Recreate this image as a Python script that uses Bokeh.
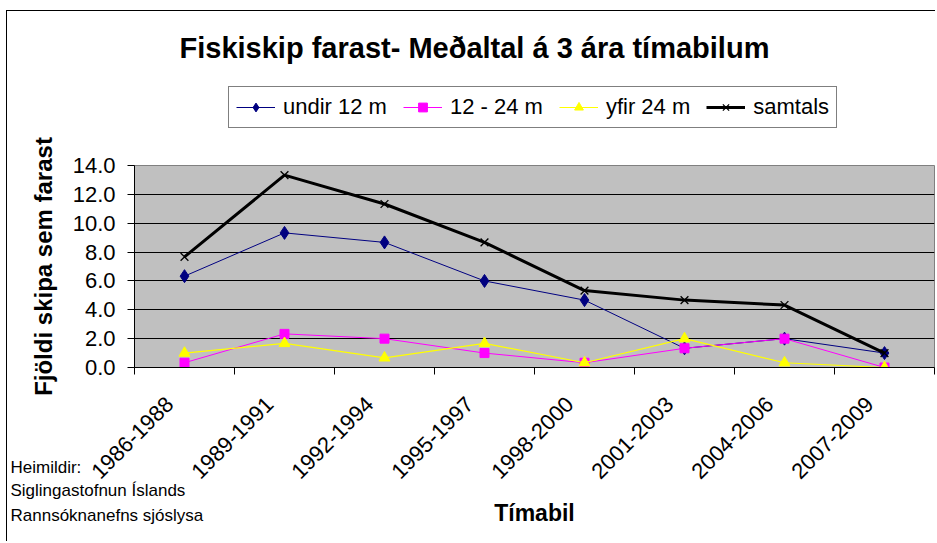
import math
from bokeh.plotting import figure
from bokeh.models import (FactorRange, Range1d, LinearAxis, FixedTicker,
                          Legend, LegendItem, Label, ColumnDataSource, PrintfTickFormatter)
from bokeh.embed import file_html
from bokeh.resources import INLINE

# ---- data ----
periods = ["1986-1988", "1989-1991", "1992-1994", "1995-1997",
           "1998-2000", "2001-2003", "2004-2006", "2007-2009"]
undir_12 = [6.33, 9.33, 8.67, 6.00, 4.67, 1.33, 2.00, 1.00]
m12_24 = [0.33, 2.33, 2.00, 1.00, 0.33, 1.33, 2.00, 0.00]
yfir_24 = [1.00, 1.67, 0.67, 1.67, 0.33, 2.00, 0.33, 0.00]
samtals = [7.67, 13.33, 11.33, 8.67, 5.33, 4.67, 4.33, 1.00]
y_ticks = [0, 2, 4, 6, 8, 10, 12, 14]

series_names = ["undir 12 m", "12 - 24 m", "yfir 24 m", "samtals"]
title_text = "Fiskiskip  farast- Meðaltal á 3 ára tímabilum"
y_label = "Fjöldi skipa sem farast"
x_label = "Tímabil"
source_lines = ["Heimildir:", "Siglingastofnun Íslands", "Rannsóknanefns sjóslysa"]

FONT = "Liberation Sans"

src = ColumnDataSource(dict(period=periods, undir=undir_12, mid=m12_24,
                            yfir=yfir_24, tot=samtals))

STYLES = [
    dict(y="undir", color="#000080", lw=1, marker="diamond", size=13, mlw=1),
    dict(y="mid", color="#FF00FF", lw=1, marker="square", size=9, mlw=1),
    dict(y="yfir", color="#FFFF00", lw=1.2, marker="triangle", size=11, mlw=1),
    dict(y="tot", color="black", lw=3, marker="x", size=11, mlw=1.3),
]


def draw_series(fig):
    out = []
    for st in STYLES:
        ln = fig.line("period", st["y"], source=src, color=st["color"], line_width=st["lw"])
        sc = fig.scatter("period", st["y"], source=src, marker=st["marker"], size=st["size"],
                         color=st["color"], line_width=st["mlw"])
        out.append([ln, sc])
    return out


# ================= main chart =================
p = figure(width=929, height=531,
           x_range=FactorRange(*periods), y_range=Range1d(0, 14),
           output_backend="svg", toolbar_location=None,
           x_axis_location=None, y_axis_location="left",
           min_border_left=127, min_border_right=2,
           min_border_top=154, min_border_bottom=175,
           background_fill_color="#C0C0C0", border_fill_color="white",
           outline_line_color="#808080",
           styles={"margin-left": "6px", "margin-top": "10px",
                   "border-left": "1px solid black", "border-top": "1px solid black"})
p.xgrid.visible = False

n = len(periods)
# tick marks at the category boundaries (synthetic coordinates 0..n)
edge_ticks = list(range(n + 1))
edge_axis = LinearAxis(ticker=FixedTicker(ticks=edge_ticks),
                       major_label_overrides={float(t): "" for t in edge_ticks},
                       major_tick_out=7, major_tick_in=0,
                       minor_tick_out=0, minor_tick_in=0,
                       major_label_standoff=0,
                       axis_line_color="black", major_tick_line_color="black")
p.add_layout(edge_axis, "below")

# slanted category names (anchored slightly left of each category centre, as in the original)
label_pos = [round(i + 0.35, 2) for i in range(n)]
label_axis = LinearAxis(ticker=FixedTicker(ticks=label_pos),
                        major_label_overrides={pos: name for pos, name in zip(label_pos, periods)},
                        major_tick_out=0, major_tick_in=0,
                        minor_tick_out=0, minor_tick_in=0,
                        axis_line_color=None,
                        major_label_orientation=math.pi / 4,
                        major_label_text_font_size="22px",
                        major_label_text_font=FONT,
                        major_label_text_color="black",
                        major_label_standoff=26,
                        axis_label=x_label,
                        axis_label_text_font=FONT,
                        axis_label_text_font_size="23px",
                        axis_label_text_font_style="bold",
                        axis_label_text_color="black",
                        axis_label_standoff=11)
p.add_layout(label_axis, "below")

ya = p.yaxis[0]
ya.ticker = FixedTicker(ticks=y_ticks)
ya.formatter = PrintfTickFormatter(format="%.1f")
ya.major_tick_out = 7
ya.major_tick_in = 0
ya.minor_tick_out = 0
ya.minor_tick_in = 0
ya.axis_line_color = "black"
ya.major_tick_line_color = "black"
ya.major_label_text_font = FONT
ya.major_label_text_font_size = "22px"
ya.major_label_text_color = "black"
ya.major_label_standoff = 12
ya.axis_label = y_label
ya.axis_label_text_font = FONT
ya.axis_label_text_font_size = "24px"
ya.axis_label_text_font_style = "bold"
ya.axis_label_text_color = "black"
ya.axis_label_standoff = 13

p.ygrid.ticker = FixedTicker(ticks=y_ticks)
p.ygrid.grid_line_color = "black"
p.ygrid.grid_line_width = 1

draw_series(p)

# ================= overlay for texts and legend outside the plot area =================
q = figure(width=930, height=540,
           x_range=FactorRange(*periods), y_range=Range1d(-20, -19),
           output_backend="svg", toolbar_location=None,
           x_axis_location=None, y_axis_location=None,
           min_border=0, min_border_left=0, min_border_right=0,
           min_border_top=0, min_border_bottom=0,
           background_fill_color=None, border_fill_color=None,
           outline_line_color=None,
           styles={"position": "absolute", "left": "0px", "top": "0px",
                   "pointer-events": "none"})
q.xgrid.visible = False
q.ygrid.visible = False
legend_renderers = draw_series(q)   # same series, kept outside q's visible range

legend = Legend(items=[LegendItem(label=name, renderers=rs)
                       for name, rs in zip(series_names, legend_renderers)],
                orientation="horizontal", location=(228, 540 - 128),
                label_text_font=FONT, label_text_font_size="22px",
                label_text_color="black",
                border_line_color="black", border_line_width=1,
                background_fill_color="white", background_fill_alpha=1,
                glyph_width=39, glyph_height=22, label_standoff=8,
                spacing=16, padding=7, margin=0)
q.add_layout(legend)

q.add_layout(Label(x=478, y=540 - 47, x_units="screen", y_units="screen",
                   text=title_text, text_align="center", text_baseline="middle",
                   text_font=FONT, text_font_size="29px", text_font_style="bold",
                   text_color="black"))

for line, yc in zip(source_lines, [467, 490, 515]):
    q.add_layout(Label(x=10, y=540 - yc, x_units="screen", y_units="screen",
                       text=line, text_align="left", text_baseline="middle",
                       text_font=FONT, text_font_size="17px", text_color="black"))

open("out.html", "w").write(file_html([p, q], INLINE))
